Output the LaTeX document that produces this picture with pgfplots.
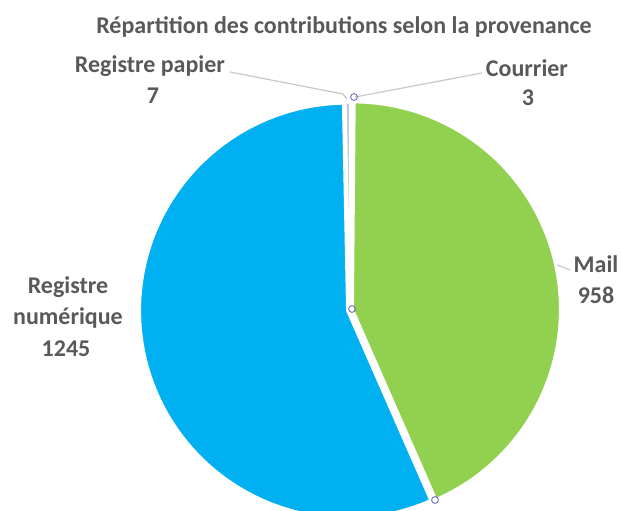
\documentclass[border=0pt]{standalone}
\usepackage{fontspec}
\setmainfont{Carlito}
\usepackage{pgfplots}
\usepackage{pgfplotstable}
\pgfplotsset{compat=1.18}
\definecolor{cblue}{HTML}{00B0F0}
\definecolor{cgreen}{HTML}{92D050}
\definecolor{ctext}{HTML}{595959}
\definecolor{clead}{HTML}{C8C8C8}
\definecolor{csmall}{HTML}{C4CAD4}
\tikzset{lbl/.style={font=\bfseries\fontsize{24}{28}\selectfont, text=ctext, align=center, inner sep=0pt}}

\pgfplotstableread{
label value
Courrier 3
Mail 958
Numerique 1245
Papier 7
}\piedata

\begin{document}
\begin{tikzpicture}
\pgfplotstablegetelem{0}{value}\of\piedata\let\vA\pgfplotsretval
\pgfplotstablegetelem{1}{value}\of\piedata\let\vB\pgfplotsretval
\pgfplotstablegetelem{2}{value}\of\piedata\let\vC\pgfplotsretval
\pgfplotstablegetelem{3}{value}\of\piedata\let\vD\pgfplotsretval
\pgfmathsetmacro\tot{\vA+\vB+\vC+\vD}
\pgfmathsetmacro\aB{360*(\vA/\tot)}
\pgfmathsetmacro\aC{\aB+360*(\vB/\tot)}
\pgfmathsetmacro\aD{\aC+360*(\vC/\tot)}
\pgfmathsetmacro\mB{(\aB+\aC)/2}
\pgfmathsetmacro\mC{(\aC+\aD)/2}
\pgfmathsetmacro\gx{350+3*sin(\mB)}
\pgfmathsetmacro\gy{310-3*cos(\mB)}
\pgfmathsetmacro\bx{350+3*sin(\mC)}
\pgfmathsetmacro\by{310-3*cos(\mC)}
\def\R{207}
\begin{axis}[
  scale only axis, width=622pt, height=511pt,
  xmin=0, xmax=622, ymin=0, ymax=511, y dir=reverse,
  hide axis, clip=true,
]
% slices
\addplot[fill=cgreen, draw=white, line width=2pt, domain=\aB:\aC, samples=150, variable=\t]
  ({\gx+\R*sin(t)},{\gy-\R*cos(t)}) -- (axis cs:\gx,\gy) -- cycle;
\addplot[fill=cblue, draw=white, line width=2pt, domain=\aC:\aD, samples=180, variable=\t]
  ({\bx+\R*sin(t)},{\by-\R*cos(t)}) -- (axis cs:\bx,\by) -- cycle;
\addplot[fill=csmall, draw=white, line width=1.6pt, domain=\aD:360, samples=4, variable=\t]
  ({350+\R*sin(t)},{310-\R*cos(t)}) -- (axis cs:350,310) -- cycle;
\addplot[fill=csmall, draw=white, line width=1.6pt, domain=0:\aB, samples=4, variable=\t]
  ({350+\R*sin(t)},{310-\R*cos(t)}) -- (axis cs:350,310) -- cycle;
% leader lines
\addplot[clead, line width=1.2pt] coordinates {(230,72) (343,94) (347,99)};
\addplot[clead, line width=1.2pt] coordinates {(355,97) (482,73)};
\addplot[clead, line width=1.2pt] coordinates {(557,265) (570,270)};
% handles
\addplot[only marks, mark=o, mark size=3.4pt, mark options={draw=gray!60!blue!80, line width=0.9pt, fill=white}]
  coordinates {(354,97) (352,309) (435,500)};
% labels
\node[lbl] at (axis cs:344,27) {Répartition des contributions selon la provenance};
\node[lbl] at (axis cs:150,66) {Registre papier};
\node[lbl] at (axis cs:153,96) {7};
\node[lbl] at (axis cs:527,68) {Courrier};
\node[lbl] at (axis cs:528,98) {3};
\node[lbl] at (axis cs:68,287) {Registre};
\node[lbl] at (axis cs:68,318) {numérique};
\node[lbl] at (axis cs:66,349) {1245};
\node[lbl] at (axis cs:596,264) {Mail};
\node[lbl] at (axis cs:596,295) {958};
\end{axis}
\pgfresetboundingbox
\useasboundingbox (current axis.south west) rectangle (current axis.north east);
\end{tikzpicture}
\end{document}
